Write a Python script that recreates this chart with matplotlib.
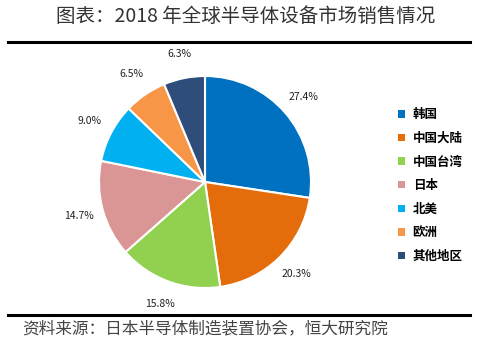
import matplotlib
matplotlib.use("Agg")
import matplotlib.pyplot as plt
from matplotlib.lines import Line2D
from matplotlib.patches import Patch

plt.rcParams['font.family'] = ['Noto Sans CJK SC', 'DejaVu Sans']

categories = ['韩国', '中国大陆', '中国台湾', '日本', '北美', '欧洲', '其他地区']
values = [27.4, 20.3, 15.8, 14.7, 9.0, 6.5, 6.3]
colors = ['#0070C0', '#E46C0A', '#92D050', '#D99694', '#00B0F0', '#F79646', '#2E4D7B']
title = '图表：2018 年全球半导体设备市场销售情况'
source = '资料来源：日本半导体制造装置协会，恒大研究院'

W, H = 484, 348
fig = plt.figure(figsize=(W / 100, H / 100), dpi=100)

cx, cy, r = 205, 182, 106
ax = fig.add_axes([(cx - r) / W, (H - cy - r) / H, 2 * r / W, 2 * r / H])
wedges, texts, autotexts = ax.pie(
    values, colors=colors, startangle=90, counterclock=False,
    autopct=lambda p: f'{p:.1f}%', pctdistance=1.23,
    wedgeprops=dict(edgecolor='white', linewidth=1.5),
    textprops=dict(fontsize=7.5, color='#222222'))
ax.set_aspect('equal')
ax.set_xlim(-1, 1)
ax.set_ylim(-1, 1)
for t in autotexts:
    t.set_clip_on(False)

# title and rules
fig.text(246 / W, 1 - 16 / H, title, fontsize=14, ha='center', va='center', color='#333333')
fig.add_artist(Line2D([8 / W, 470 / W], [1 - 42 / H, 1 - 42 / H], color='black', lw=2.2))
fig.add_artist(Line2D([8 / W, 470 / W], [1 - 315 / H, 1 - 315 / H], color='black', lw=2.2))
fig.text(22 / W, 1 - 329 / H, source, fontsize=12, ha='left', va='center',
         color='#444444', style='italic')

# legend
handles = [Patch(facecolor=c, edgecolor='none') for c in colors]
leg = fig.legend(handles, categories, loc='upper left',
                 bbox_to_anchor=(387 / W, 1 - 97 / H), frameon=False,
                 handlelength=0.55, handleheight=0.55, handletextpad=0.6,
                 labelspacing=0.85, prop=dict(weight='bold', size=9))

fig.savefig('out.png', dpi=100)
